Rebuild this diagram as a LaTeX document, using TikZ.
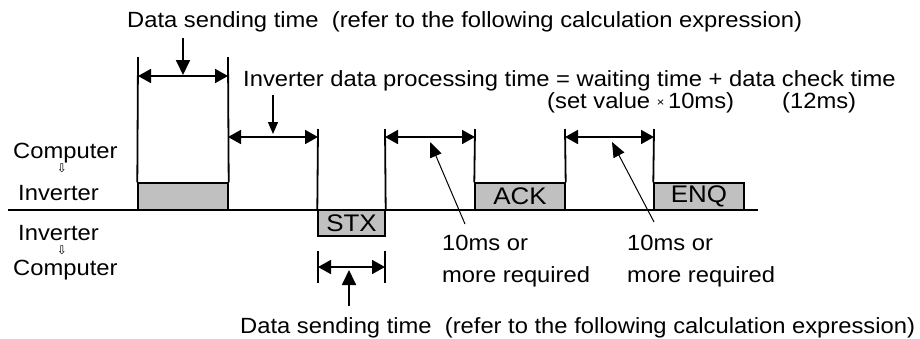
\documentclass[tikz,border=0pt]{standalone}
\usepackage{fontspec}
\setmainfont{Liberation Sans}[FakeStretch=1.08]
\newfontfamily\arrowfont{DejaVu Sans}
\usepackage{xcolor}
\usepackage{tikz}
\usetikzlibrary{arrows.meta,positioning}
\definecolor{framegray}{HTML}{C0C0C0}
\tikzset{
  lbl/.style={font=\fontsize{22}{26}\selectfont,inner sep=0pt,anchor=base west},
  dirmark/.style={font=\arrowfont\fontsize{12}{12}\selectfont,inner sep=0pt},
  frame/.style={
    draw=black,fill=framegray,line width=1.4pt,inner sep=0pt,
    minimum width=90pt,minimum height=27pt,font=\fontsize{24}{24}\selectfont
  },
  wire/.style={line width=1.8pt},
  tick/.style={line width=1.8pt},
  dim/.style={{Triangle[length=13pt,width=14pt]}-{Triangle[length=13pt,width=14pt]},line width=1.8pt},
  bigptr/.style={-{Triangle[length=15pt,width=14pt]},line width=1.8pt},
  smallptr/.style={-{Triangle[length=12pt,width=10pt]},line width=1.3pt},
  slantptr/.style={-{Triangle[length=15pt,width=12pt]},line width=1pt}
}
\begin{document}
\begin{tikzpicture}[x=1pt,y=-1pt]
\useasboundingbox (0,0) rectangle (920,338);

\coordinate (lineL) at (8,210);
\coordinate (lineR) at (758,210);
\draw[wire] (lineL)--(lineR);

\node[frame] (send) at (183,196.5) {};
\node[frame,minimum width=67pt,minimum height=26pt] (stx) at (351.5,223) {STX};
\node[frame] (ack) at (520,196.5) {ACK};
\node[frame] (enq) at (699,196.5) {ENQ};

\node[lbl] (pc1) at (13,158) {Computer};
\node[dirmark] (dir1) at (62,168) {⇩};
\node[lbl] (inv1) at (18,200) {Inverter};
\node[lbl] (inv2) at (18,240) {Inverter};
\node[dirmark] (dir2) at (62,250) {⇩};
\node[lbl] (pc2) at (13,275) {Computer};

\node[lbl] (toptxt) at (127,27)
{Data sending time\ \ (refer to the following calculation expression)};
\node[lbl] (proctxt) at (243,86)
{Inverter data processing time = waiting time + data check time};
\node[lbl] (waittxt) at (547,108)
{(set value {\fontsize{12}{12}\selectfont\raisebox{2pt}{×}}\,10ms)};
\node[lbl] (checktxt) at (782,108) {(12ms)};
\node[lbl] (req1) at (442,250) {10ms or};
\node[lbl] (req1b) at ([yshift=-32pt]req1.base west) {more required};
\node[lbl] (req2) at (627,250) {10ms or};
\node[lbl] (req2b) at ([yshift=-32pt]req2.base west) {more required};
\node[lbl] (bottxt) at (240,333)
{Data sending time\ \ (refer to the following calculation expression)};

\coordinate (t1) at (138,57);
\coordinate (t2) at (228,57);
\coordinate (t3) at (318,129);
\coordinate (t4) at (385,129);
\coordinate (t5) at (475,129);
\coordinate (t6) at (565,129);
\coordinate (t7) at (654,129);
\coordinate (b1) at (318,251);
\coordinate (b2) at (385,251);
\coordinate (b1e) at (318,283);
\coordinate (b2e) at (385,283);

\draw[tick] (t1)--(send.north west);
\draw[tick] (t2)--(send.north east);
\draw[tick] (t3)--(stx.north west);
\draw[tick] (t4)--(stx.north east);
\draw[tick] (t5)--(ack.north west);
\draw[tick] (t6)--(ack.north east);
\draw[tick] (t7)--(enq.north west);
\draw[tick] (b1)--(b1e);
\draw[tick] (b2)--(b2e);

\draw[dim] ([yshift=-19pt]t1)--([yshift=-19pt]t2);
\draw[dim] ([yshift=-8pt]t2|-t3)--([yshift=-8pt]t3);
\draw[dim] ([yshift=-8pt]t4)--([yshift=-8pt]t5);
\draw[dim] ([yshift=-8pt]t6)--([yshift=-8pt]t7);
\draw[dim] ([yshift=-16pt]b1)--([yshift=-16pt]b2);

\coordinate (p1s) at (183,38);
\coordinate (p1e) at (183,75);
\coordinate (p2s) at (273,95);
\coordinate (p2e) at (273,134);
\coordinate (p3s) at (349,306);
\coordinate (p3e) at (349,270);
\coordinate (p4s) at (465,224);
\coordinate (p4e) at (430,142);
\coordinate (p5s) at (654,222);
\coordinate (p5e) at (612,142);

\draw[bigptr] (p1s)--(p1e);
\draw[smallptr] (p2s)--(p2e);
\draw[bigptr] (p3s)--(p3e);
\draw[slantptr] (p4s)--(p4e);
\draw[slantptr] (p5s)--(p5e);
\end{tikzpicture}
\end{document}
